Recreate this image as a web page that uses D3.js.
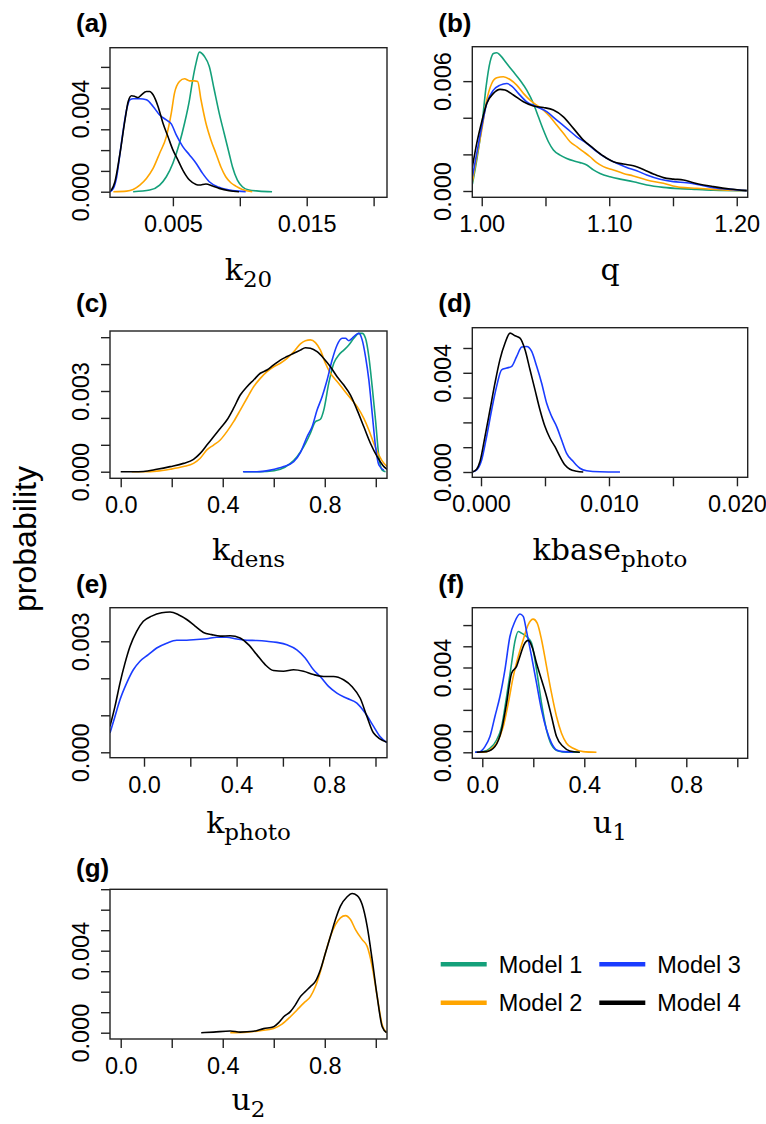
<!DOCTYPE html>
<html>
<head>
<meta charset="utf-8">
<script src="https://cdn.jsdelivr.net/npm/d3@7"></script>
<style>
  body { margin: 0; background: #fff; }
  svg text { fill: #000; }
  .tick-lab { font-family: "Liberation Sans", Arial, sans-serif; font-size: 23.5px; }
  .pan-title { font-family: "Liberation Sans", Arial, sans-serif; font-size: 26px; font-weight: bold; }
  .var-lab { font-family: "DejaVu Serif", serif; font-size: 30px; }
  .leg-lab { font-family: "Liberation Sans", Arial, sans-serif; font-size: 23.5px; }
</style>
</head>
<body>
<svg id="chart" width="766" height="1124"></svg>
<script>
// models
var modelNames = ['Model 1', 'Model 2', 'Model 3', 'Model 4']
var modelColors = ['#14a07a', '#ffa500', '#1a3cff', '#000000']

// (a) k20, [value, probability]
var k20M1 = [[0.00203,0],[0.00327,0.00008],[0.00401,0.00032],[0.00451,0.00072],[0.0050,0.00137],[0.00549,0.00233],[0.00587,0.00329],[0.00624,0.00442],[0.00648,0.00538],[0.00673,0.00618],[0.00698,0.00671],[0.00735,0.00651],[0.00772,0.00602],[0.00809,0.0049],[0.00846,0.00378],[0.00883,0.00281],[0.0092,0.00185],[0.00945,0.0012],[0.00982,0.00056],[0.01019,0.00024],[0.01068,0.00008],[0.01143,0.00003],[0.01241,0]]
var k20M2 = [[0.00055,0],[0.00154,0.00003],[0.00203,0.00011],[0.00253,0.00032],[0.00302,0.00064],[0.00352,0.00112],[0.00401,0.00185],[0.00451,0.00265],[0.00488,0.00378],[0.00512,0.00474],[0.00549,0.0053],[0.00587,0.00543],[0.00624,0.00533],[0.00661,0.00533],[0.00685,0.0053],[0.0071,0.00442],[0.00747,0.00329],[0.00784,0.00249],[0.00821,0.00185],[0.00858,0.0012],[0.00895,0.00072],[0.00933,0.00043],[0.0097,0.00027],[0.01019,0.00011],[0.01093,0]]
var k20M3 = [[0.0003,0],[0.00055,0.00016],[0.0008,0.00072],[0.00105,0.00185],[0.00129,0.00297],[0.00154,0.00394],[0.00179,0.00442],[0.00203,0.00447],[0.00253,0.00447],[0.00302,0.00442],[0.00352,0.0041],[0.00401,0.00369],[0.00451,0.00345],[0.00488,0.00326],[0.00525,0.00273],[0.00574,0.00217],[0.00624,0.00177],[0.00673,0.00137],[0.00722,0.00088],[0.00772,0.00048],[0.00846,0.00021],[0.00945,0.00005],[0.01044,0]]
var k20M4 = [[0.00038,0.00005],[0.00067,0.00048],[0.00105,0.00185],[0.00142,0.00345],[0.00166,0.00434],[0.00191,0.00461],[0.00216,0.00458],[0.0024,0.00453],[0.00265,0.00466],[0.00302,0.00482],[0.00327,0.00482],[0.00352,0.00466],[0.00389,0.0041],[0.00426,0.00329],[0.00463,0.00265],[0.005,0.00201],[0.00537,0.00153],[0.00574,0.00104],[0.00624,0.00056],[0.00673,0.00035],[0.00698,0.00032],[0.00747,0.00037],[0.00797,0.00027],[0.00846,0.00016],[0.0092,0.00005],[0.00994,0]]

// (b) q
var qM1 = [[0.99268,0.00038],[0.99608,0.00169],[1.0,0.00351],[1.0034,0.00569],[1.00654,0.00705],[1.00915,0.00751],[1.01176,0.00755],[1.01438,0.00742],[1.01961,0.00696],[1.02484,0.00651],[1.03007,0.00605],[1.03529,0.00551],[1.04052,0.00478],[1.04444,0.00405],[1.04837,0.00333],[1.05229,0.00269],[1.05621,0.00224],[1.06144,0.00196],[1.06667,0.00178],[1.0719,0.00165],[1.07712,0.00155],[1.08235,0.00142],[1.08758,0.00115],[1.09281,0.00096],[1.10065,0.00078],[1.1085,0.00065],[1.11895,0.00051],[1.12941,0.00033],[1.14248,0.0002],[1.15556,0.00013],[1.16863,0.00009],[1.1817,0.00005],[1.20784,0.00002]]
var qM2 = [[0.99268,0.00051],[0.99608,0.00187],[1.0,0.00333],[1.00392,0.00496],[1.00784,0.00587],[1.01176,0.00618],[1.01699,0.00624],[1.02222,0.00609],[1.02745,0.00578],[1.03268,0.00533],[1.03791,0.00496],[1.04314,0.00469],[1.04837,0.00442],[1.05359,0.00405],[1.05882,0.0036],[1.06405,0.00315],[1.06928,0.00269],[1.07451,0.00242],[1.07974,0.00215],[1.08497,0.00187],[1.0902,0.00155],[1.09542,0.00133],[1.10327,0.00115],[1.11111,0.00096],[1.11895,0.00082],[1.12941,0.0006],[1.14248,0.00042],[1.15556,0.0002],[1.16863,0.00015],[1.1817,0.00009],[1.20784,0.00002]]
var qM3 = [[0.99268,0.00078],[0.99608,0.00205],[1.0,0.00351],[1.00392,0.00478],[1.00915,0.00551],[1.01438,0.00578],[1.01961,0.00587],[1.02353,0.00573],[1.02876,0.00533],[1.03529,0.00487],[1.04314,0.0046],[1.05098,0.00433],[1.05882,0.00387],[1.06667,0.00342],[1.07451,0.00296],[1.08235,0.0026],[1.0902,0.00215],[1.09804,0.00178],[1.10588,0.00151],[1.11373,0.00129],[1.12157,0.00111],[1.12941,0.00087],[1.13987,0.00064],[1.15033,0.00051],[1.16078,0.00045],[1.17124,0.00033],[1.1817,0.00018],[1.19477,0.00009],[1.20784,0.00002]]
var qM4 = [[0.99268,0.00133],[0.99608,0.0026],[1.0,0.00378],[1.00392,0.00478],[1.00915,0.00533],[1.01438,0.00555],[1.0183,0.00551],[1.02484,0.00524],[1.03268,0.00487],[1.04052,0.00464],[1.04837,0.00456],[1.05621,0.00442],[1.06405,0.00405],[1.0719,0.00342],[1.07974,0.00278],[1.08758,0.00233],[1.09542,0.00191],[1.10327,0.0016],[1.11111,0.00147],[1.11895,0.00138],[1.1268,0.00118],[1.13464,0.00093],[1.14248,0.00073],[1.15033,0.00065],[1.15817,0.0006],[1.16601,0.00045],[1.17386,0.00033],[1.1817,0.00024],[1.19477,0.00011],[1.20784,0.00002]]

// (c) k_dens
var kdensM1 = [[0.48183,0],[0.52111,0],[0.57349,0.00001],[0.62586,0.00009],[0.66514,0.00031],[0.69133,0.00056],[0.71751,0.00093],[0.7437,0.00143],[0.76334,0.00186],[0.78298,0.00195],[0.79607,0.00229],[0.81571,0.00329],[0.83535,0.00403],[0.85499,0.00434],[0.87463,0.00452],[0.89427,0.00471],[0.91391,0.00496],[0.93355,0.00514],[0.94664,0.00514],[0.95974,0.00496],[0.97283,0.00428],[0.98593,0.00316],[0.99902,0.00192],[1.01211,0.00056],[1.0252,0.00006],[1.0383,0]]
var kdensM2 = [[0.04321,0],[0.08903,0],[0.14141,0.00002],[0.19378,0.00009],[0.24615,0.00019],[0.28543,0.00031],[0.31162,0.0005],[0.3378,0.00081],[0.36399,0.00099],[0.39018,0.00118],[0.41636,0.00149],[0.44255,0.00186],[0.46874,0.00229],[0.49493,0.00273],[0.52111,0.00316],[0.5473,0.00347],[0.57349,0.00372],[0.59967,0.0039],[0.62586,0.00403],[0.65205,0.00421],[0.67823,0.00446],[0.70442,0.00475],[0.72406,0.00487],[0.7437,0.0049],[0.76334,0.0048],[0.78298,0.00452],[0.80262,0.00403],[0.82226,0.00366],[0.84845,0.00335],[0.87463,0.00304],[0.90082,0.00273],[0.927,0.00242],[0.95319,0.00198],[0.97283,0.00155],[0.99247,0.00105],[1.01211,0.00062],[1.03175,0.00031],[1.04484,0.00019]]
var kdensM3 = [[0.47921,0],[0.53421,0],[0.58658,0.00006],[0.63895,0.00019],[0.67823,0.00037],[0.70442,0.00071],[0.7306,0.0013],[0.75025,0.00167],[0.76989,0.00229],[0.78953,0.00279],[0.80917,0.00341],[0.82881,0.00415],[0.84845,0.00471],[0.86809,0.00496],[0.88118,0.00496],[0.89427,0.00487],[0.90736,0.00496],[0.92046,0.00508],[0.93355,0.00514],[0.94664,0.0049],[0.95974,0.00428],[0.97283,0.00341],[0.98593,0.00217],[0.99902,0.00093],[1.01211,0.00025],[1.03175,0.00006]]
var kdensM4 = [[0,0],[0.04975,0],[0.08903,0.00001],[0.14141,0.00009],[0.19378,0.00019],[0.24615,0.00031],[0.28543,0.00046],[0.31162,0.00068],[0.3378,0.00099],[0.36399,0.0013],[0.39018,0.00161],[0.41636,0.00192],[0.44255,0.00236],[0.46874,0.00285],[0.49493,0.00316],[0.52111,0.00341],[0.5473,0.00366],[0.57349,0.00378],[0.59967,0.00397],[0.62586,0.00415],[0.65205,0.00428],[0.67823,0.0044],[0.70442,0.00452],[0.72406,0.00461],[0.7437,0.00459],[0.76989,0.00446],[0.79607,0.00421],[0.82226,0.0039],[0.84845,0.00353],[0.87463,0.00322],[0.90082,0.00285],[0.927,0.00229],[0.95319,0.00167],[0.97938,0.00105],[1.00556,0.00056],[1.03175,0.00019],[1.04484,0.00009]]

// (d) kbase_photo (models 3 and 4 only)
var kbaseM3 = [[-0.00068,0],[-0.00034,0.00008],[0.00005,0.00048],[0.00044,0.00143],[0.00083,0.0025],[0.00122,0.00345],[0.00161,0.00412],[0.00201,0.00419],[0.0024,0.00426],[0.00279,0.00466],[0.00318,0.00504],[0.00357,0.00506],[0.00396,0.00486],[0.00435,0.00426],[0.00474,0.00358],[0.00513,0.00277],[0.00552,0.00224],[0.00591,0.00183],[0.0063,0.00129],[0.00669,0.00075],[0.00721,0.00042],[0.00773,0.00015],[0.00826,0.00005],[0.0093,0.00001],[0.01086,0]]
var kbaseM4 = [[-0.00068,0],[-0.00034,0.00011],[-0.00008,0.00042],[0.00031,0.00143],[0.0007,0.0025],[0.00109,0.00358],[0.00148,0.00453],[0.00188,0.0052],[0.00227,0.0056],[0.00266,0.00549],[0.00305,0.0054],[0.00344,0.00493],[0.00383,0.00412],[0.00422,0.00331],[0.00461,0.0025],[0.005,0.00183],[0.00539,0.00136],[0.00578,0.00102],[0.00617,0.00062],[0.00656,0.00028],[0.00695,0.00011],[0.00747,0.00003],[0.00799,0]]

// (e) k_photo (models 3 and 4 only)
var kphotoM3 = [[-0.14703,0.00052],[-0.12541,0.00097],[-0.10378,0.00142],[-0.07495,0.00187],[-0.04613,0.00223],[-0.0173,0.00246],[0.01874,0.00264],[0.05477,0.00282],[0.09802,0.00295],[0.14126,0.00303],[0.1845,0.00303],[0.22775,0.00305],[0.27099,0.00307],[0.31423,0.00311],[0.35748,0.00311],[0.40072,0.00306],[0.44396,0.00303],[0.48721,0.00302],[0.53045,0.003],[0.57369,0.00297],[0.61694,0.00291],[0.66018,0.00277],[0.69622,0.00255],[0.73225,0.00223],[0.76108,0.00205],[0.79712,0.00178],[0.83315,0.0016],[0.8764,0.00146],[0.91964,0.00133],[0.95568,0.00106],[0.99171,0.0007],[1.02054,0.00042],[1.04937,0.00026]]
var kphotoM4 = [[-0.14703,0.0007],[-0.12541,0.00124],[-0.10378,0.00187],[-0.08216,0.00241],[-0.06054,0.00286],[-0.03171,0.00327],[-0.00288,0.00354],[0.03315,0.00368],[0.0764,0.00377],[0.11243,0.00379],[0.14847,0.00372],[0.1845,0.00359],[0.22054,0.00341],[0.25658,0.00324],[0.29261,0.00318],[0.32865,0.00314],[0.37189,0.00315],[0.41514,0.00309],[0.45117,0.00291],[0.48721,0.00264],[0.52324,0.00237],[0.55928,0.00221],[0.60252,0.00219],[0.64577,0.00223],[0.68901,0.00219],[0.73225,0.0021],[0.7755,0.00205],[0.81874,0.00205],[0.86198,0.00196],[0.89802,0.00178],[0.93405,0.00146],[0.96288,0.00097],[0.99171,0.00052],[1.04937,0.00027]]

// (f) u1
var u1M1 = [[-0.02871,0],[0.00392,0.00003],[0.03002,0.00019],[0.05612,0.00058],[0.07569,0.00121],[0.09527,0.00263],[0.11485,0.0042],[0.1279,0.00523],[0.14095,0.0057],[0.154,0.00562],[0.17357,0.00546],[0.19315,0.00515],[0.21272,0.00389],[0.2323,0.00231],[0.25188,0.00106],[0.27145,0.00035],[0.29755,0.00006],[0.33018,0],[0.38238,0]]
var u1M2 = [[-0.02219,0],[0.00392,0],[0.03002,0.00011],[0.05612,0.00043],[0.08222,0.00121],[0.1018,0.00231],[0.12137,0.00357],[0.14095,0.00452],[0.16052,0.00531],[0.1801,0.00602],[0.19967,0.00628],[0.21533,0.00609],[0.2323,0.00531],[0.25188,0.00405],[0.27145,0.00279],[0.29103,0.00169],[0.3106,0.0009],[0.33018,0.00043],[0.35628,0.00019],[0.39543,0.00003],[0.44763,0]]
var u1M3 = [[-0.02871,0],[-0.00914,0.00003],[0.01044,0.00027],[0.03002,0.00074],[0.04959,0.00169],[0.06917,0.00263],[0.08874,0.00389],[0.10832,0.00546],[0.1279,0.00617],[0.14747,0.00652],[0.16052,0.00641],[0.17357,0.0057],[0.19315,0.00452],[0.21272,0.00326],[0.2323,0.002],[0.25188,0.00106],[0.27145,0.00043],[0.29103,0.00011],[0.31713,0.00003],[0.35628,0]]
var u1M4 = [[-0.02219,0],[0.01697,0.00003],[0.04959,0.00027],[0.07569,0.00106],[0.09527,0.00231],[0.11485,0.00373],[0.13442,0.00405],[0.14747,0.00452],[0.16313,0.00507],[0.1801,0.00528],[0.19706,0.00491],[0.21272,0.0042],[0.2323,0.00342],[0.25188,0.00263],[0.27145,0.00169],[0.29103,0.00074],[0.31713,0.00027],[0.34323,0.00006],[0.38238,0]]

// (g) u2 (models 2 and 4 only)
var u2M2 = [[0.42946,0],[0.49493,0.00003],[0.5473,0.0001],[0.59967,0.00021],[0.6324,0.00042],[0.66514,0.00078],[0.69133,0.00111],[0.71751,0.00144],[0.7437,0.00176],[0.76334,0.00225],[0.78298,0.00299],[0.80262,0.00389],[0.82226,0.0047],[0.8419,0.00527],[0.86154,0.0056],[0.88118,0.00571],[0.90082,0.00552],[0.92046,0.00503],[0.94664,0.00454],[0.96628,0.00421],[0.98593,0.00323],[1.00557,0.00176],[1.0252,0.00038],[1.04223,0]]
var u2M4 = [[0.31555,0],[0.36399,0.00003],[0.42946,0.00008],[0.46874,0.00003],[0.52111,0.00007],[0.5604,0.0002],[0.59967,0.00029],[0.61931,0.00049],[0.63895,0.00078],[0.66514,0.00103],[0.68478,0.00136],[0.70442,0.00176],[0.72406,0.00201],[0.7437,0.00225],[0.76334,0.0025],[0.78298,0.00307],[0.80262,0.00389],[0.82226,0.0047],[0.8419,0.00552],[0.86154,0.00617],[0.88773,0.00663],[0.90736,0.00679],[0.927,0.00669],[0.94664,0.00625],[0.96628,0.00519],[0.98593,0.00356],[1.00557,0.00176],[1.0252,0.00029],[1.04223,0]]

// axis ticks and which of them carry a label
var panels = [
  {tag: '(a)', v: 'k', sub: '20', series: [k20M1, k20M2, k20M3, k20M4],
   xd: [0.0003, 0.021], yd: [-0.000269, 0.006923],
   xt: [0.005, 0.010, 0.015, 0.020], xl: ['0.005', '', '0.015', ''],
   yt: [0, 0.001, 0.002, 0.003, 0.004, 0.005, 0.006], yl: ['0.000', '', '', '', '0.004', '', '']},
  {tag: '(b)', v: 'q', sub: '', series: [qM1, qM2, qM3, qM4],
   xd: [0.9926, 1.2086], yd: [-0.000344, 0.00788],
   xt: [1.00, 1.05, 1.10, 1.15, 1.20], xl: ['1.00', '', '1.10', '', '1.20'],
   yt: [0, 0.002, 0.004, 0.006], yl: ['0.000', '', '', '0.006']},
  {tag: '(c)', v: 'k', sub: 'dens', series: [kdensM1, kdensM2, kdensM3, kdensM4],
   xd: [-0.042, 1.044], yd: [-0.000245, 0.00523],
   xt: [0, 0.2, 0.4, 0.6, 0.8, 1.0], xl: ['0.0', '', '0.4', '', '0.8', ''],
   yt: [0, 0.001, 0.002, 0.003, 0.004, 0.005], yl: ['0.000', '', '', '0.003', '', '']},
  {tag: '(d)', v: 'kbase', sub: 'photo', series: [null, null, kbaseM3, kbaseM4],
   xd: [-0.00068, 0.02084], yd: [-0.000214, 0.005818],
   xt: [0, 0.005, 0.010, 0.015, 0.020], xl: ['0.000', '', '0.010', '', '0.020'],
   yt: [0, 0.001, 0.002, 0.003, 0.004, 0.005], yl: ['0.000', '', '', '', '0.004', '']},
  {tag: '(e)', v: 'k', sub: 'photo', series: [null, null, kphotoM3, kphotoM4],
   xd: [-0.1469, 1.0497], yd: [-0.000146, 0.003908],
   xt: [0, 0.2, 0.4, 0.6, 0.8, 1.0], xl: ['0.0', '', '0.4', '', '0.8', ''],
   yt: [0, 0.001, 0.002, 0.003], yl: ['0.000', '', '', '0.003']},
  {tag: '(f)', v: 'u', sub: '1', series: [u1M1, u1M2, u1M3, u1M4],
   xd: [-0.0392, 1.0408], yd: [-0.000283, 0.00682],
   xt: [0, 0.2, 0.4, 0.6, 0.8, 1.0], xl: ['0.0', '', '0.4', '', '0.8', ''],
   yt: [0, 0.001, 0.002, 0.003, 0.004, 0.005, 0.006], yl: ['0.000', '', '', '', '0.004', '', '']},
  {tag: '(g)', v: 'u', sub: '2', series: [null, u2M2, null, u2M4],
   xd: [-0.042, 1.044], yd: [-0.000307, 0.006995],
   xt: [0, 0.2, 0.4, 0.6, 0.8, 1.0], xl: ['0.0', '', '0.4', '', '0.8', ''],
   yt: [0, 0.001, 0.002, 0.003, 0.004, 0.005, 0.006, 0.007], yl: ['0.000', '', '', '', '0.004', '', '', '']}
]

// plot boxes in page pixels: left, right, top, bottom, title baseline, x-label baseline
var boxes = [
  [110, 387, 47.7, 197.3, 32, 280],
  [472.3, 747.7, 46.7, 197.3, 32, 280],
  [110, 387, 331, 478.3, 312, 560],
  [472.3, 747.7, 327.7, 477.3, 312, 560],
  [110, 387, 607.7, 757.7, 593, 833],
  [472.3, 747.7, 607.7, 758.3, 593, 833],
  [110, 387, 889.3, 1039, 877, 1110]
]

var svg = d3.select('#chart')
var defs = svg.append('defs')

panels.forEach(function(p, i){
  var b = boxes[i]
  var x = d3.scaleLinear().domain(p.xd).range([b[0], b[1]])
  var y = d3.scaleLinear().domain(p.yd).range([b[3], b[2]])
  var g = svg.append('g')

  defs.append('clipPath').attr('id', 'clip' + i)
    .append('rect')
      .attr('x', b[0]).attr('y', b[2])
      .attr('width', b[1] - b[0]).attr('height', b[3] - b[2])

  var line = d3.line()
    .x(function(d){ return x(d[0]) })
    .y(function(d){ return y(d[1]) })
    .curve(d3.curveMonotoneX)

  var lines = g.append('g').attr('clip-path', 'url(#clip' + i + ')')
  p.series.forEach(function(s, m){
    if (!s) return
    lines.append('path')
      .attr('d', line(s))
      .attr('fill', 'none')
      .attr('stroke', modelColors[m])
      .attr('stroke-width', 1.6)
      .attr('stroke-linejoin', 'round')
  })

  // box
  g.append('rect')
    .attr('x', b[0]).attr('y', b[2])
    .attr('width', b[1] - b[0]).attr('height', b[3] - b[2])
    .attr('fill', 'none').attr('stroke', '#222').attr('stroke-width', 1.4)

  // x axis
  var xa = d3.axisBottom(x).tickValues(p.xt).tickSize(9).tickSizeOuter(0)
    .tickFormat(function(d, k){ return p.xl[k] })
  var gx = g.append('g').attr('transform', 'translate(0,' + b[3] + ')').call(xa)
  gx.select('.domain').remove()
  gx.selectAll('line').attr('stroke', '#222').attr('stroke-width', 1.4)
  gx.selectAll('text').attr('class', 'tick-lab').attr('font-family', null).attr('font-size', null)
    .attr('y', 35).attr('dy', null)

  // y axis, labels rotated like base R
  var ya = d3.axisLeft(y).tickValues(p.yt).tickSize(9).tickSizeOuter(0)
    .tickFormat(function(d, k){ return p.yl[k] })
  var gy = g.append('g').attr('transform', 'translate(' + b[0] + ',0)').call(ya)
  gy.select('.domain').remove()
  gy.selectAll('line').attr('stroke', '#222').attr('stroke-width', 1.4)
  gy.selectAll('text').attr('class', 'tick-lab').attr('font-family', null).attr('font-size', null)
    .attr('x', null).attr('dy', null)
    .attr('text-anchor', 'middle')
    .attr('transform', 'translate(-21.5,0) rotate(-90)')

  // panel tag
  svg.append('text').attr('class', 'pan-title')
    .attr('x', b[0] - 34).attr('y', b[4]).text(p.tag)

  // variable name with subscript
  var t = svg.append('text').attr('class', 'var-lab')
    .attr('x', (b[0] + b[1]) / 2).attr('y', b[5])
    .attr('text-anchor', 'middle')
  t.append('tspan').text(p.v)
  if (p.sub) t.append('tspan').attr('font-size', 23).attr('dy', 7).text(p.sub)
})

svg.append('text')
  .attr('transform', 'translate(36,539) rotate(-90)')
  .attr('text-anchor', 'middle')
  .style('font-family', '"Liberation Sans", Arial, sans-serif')
  .style('font-size', '32px')
  .text('probability')

// legend, two columns
var legPos = [[440.7, 964.3], [440.7, 1002.7], [599.3, 964.3], [599.3, 1002.7]]
var leg = svg.append('g')
modelNames.forEach(function(name, m){
  var p = legPos[m]
  leg.append('line')
    .attr('x1', p[0]).attr('x2', p[0] + 46)
    .attr('y1', p[1]).attr('y2', p[1])
    .attr('stroke', modelColors[m]).attr('stroke-width', 4.5)
  leg.append('text').attr('class', 'leg-lab')
    .attr('x', p[0] + 58).attr('y', p[1] + 8.5)
    .text(name)
})
</script>
</body>
</html>
